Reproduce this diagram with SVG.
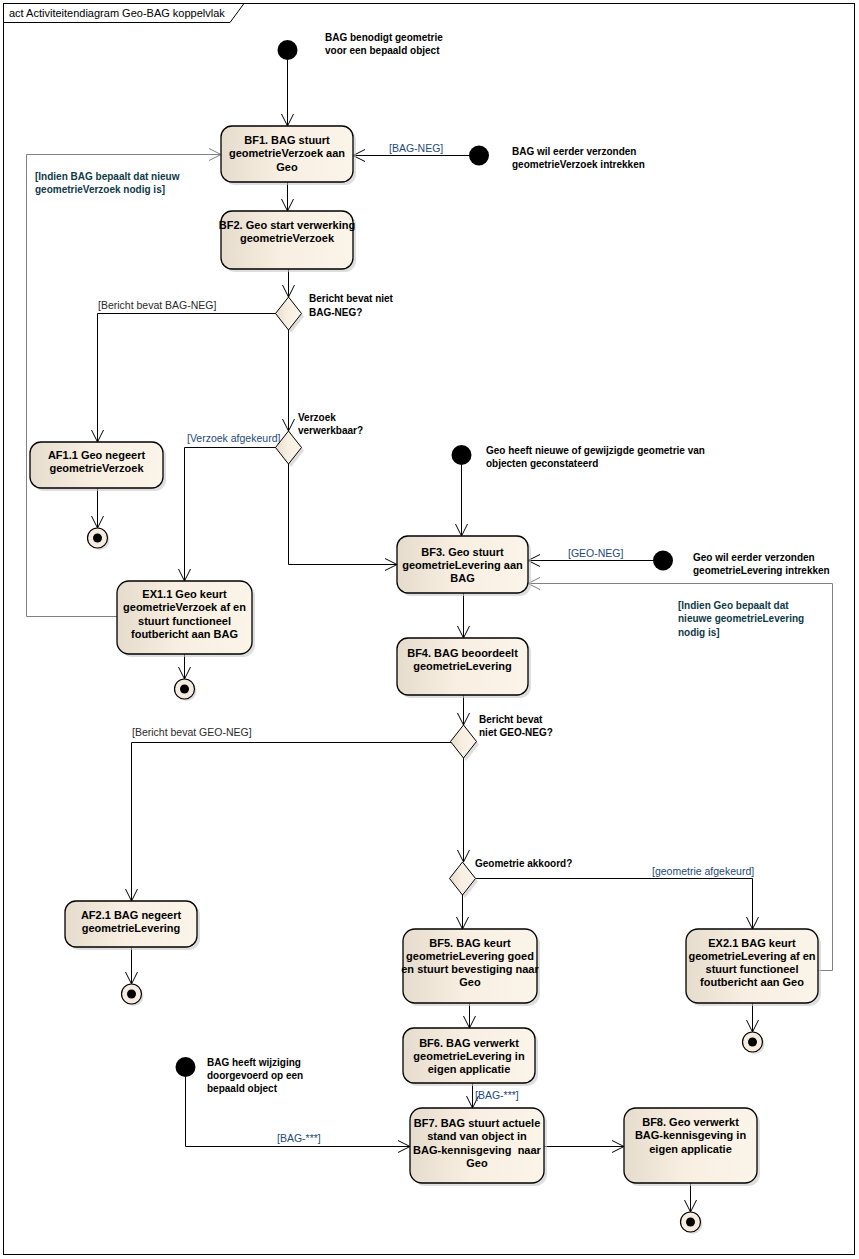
<svg xmlns="http://www.w3.org/2000/svg" width="859" height="1259" viewBox="0 0 859 1259">
<defs>
<linearGradient id="g" x1="0" y1="0" x2="1" y2="0">
<stop offset="0" stop-color="#e5dccd"/>
<stop offset="0.45" stop-color="#f8efe2"/>
<stop offset="1" stop-color="#fbf4e8"/>
</linearGradient>
<marker id="a" markerWidth="14" markerHeight="14" refX="13" refY="7" orient="auto" markerUnits="userSpaceOnUse"><path d="M1,1 L13,7 L1,13" fill="none" stroke="#000" stroke-width="1"/></marker>
<marker id="ag" markerWidth="14" markerHeight="14" refX="13" refY="7" orient="auto" markerUnits="userSpaceOnUse"><path d="M1,1 L13,7 L1,13" fill="none" stroke="#808080" stroke-width="1"/></marker>
</defs>
<style>
.n{fill:url(#g);stroke:#000;stroke-width:1.3}
.sh{fill:#c8c8c8;opacity:0.6}
.t{font-family:"Liberation Sans",Arial,sans-serif;font-size:11px;font-weight:bold;fill:#000;text-anchor:middle}
.nt{font-family:"Liberation Sans",Arial,sans-serif;font-size:10px;font-weight:bold;fill:#000}
.lg{font-family:"Liberation Sans",Arial,sans-serif;font-size:10px;font-weight:bold;fill:#0e3a48}
.gd{font-family:"Liberation Sans",Arial,sans-serif;font-size:10.5px;fill:#1e4a7a}
.gk{font-family:"Liberation Sans",Arial,sans-serif;font-size:10.5px;fill:#2a2a2a}
.c{fill:none;stroke:#000;stroke-width:1;marker-end:url(#a)}
.cg{fill:none;stroke:#808080;stroke-width:1;marker-end:url(#ag)}
.ini{fill:#000}
.fo{fill:#f5ecdf;stroke:#000;stroke-width:1.2}
.d{fill:url(#g);stroke:#000;stroke-width:1}
</style>
<rect x="0" y="0" width="859" height="1259" fill="#fff"/>
<g id="frame">
<rect x="3.5" y="3.5" width="851" height="1251" fill="none" stroke="#000" stroke-width="1"/>
<path d="M3.5,22.5 H230 L244,3.5" fill="none" stroke="#000" stroke-width="1"/>
<text x="9" y="17" font-family="Liberation Sans, Arial, sans-serif" font-size="11" fill="#000">act Activiteitendiagram Geo-BAG koppelvlak</text>
</g>
<g id="connectors">
<path class="c" d="M287.5,60 V126"/>
<path class="c" d="M469,155.5 H353"/>
<text class="gd" x="389" y="152">[BAG-NEG]</text>
<path class="cg" d="M117,616.5 H26.5 V154.5 H221"/>
<text class="lg" x="35" y="180">[Indien BAG bepaalt dat nieuw</text>
<text class="lg" x="35" y="193">geometrieVerzoek nodig is]</text>
<path class="c" d="M287.5,182 V211"/>
<path class="c" d="M288.5,269 V297"/>
<path class="c" d="M276,313.5 H97.5 V442"/>
<text class="gk" x="98" y="309">[Bericht bevat BAG-NEG]</text>
<path class="c" d="M288.5,330 V431"/>
<path class="c" d="M276,447.5 H184.5 V581"/>
<text class="gd" x="187" y="442">[Verzoek afgekeurd]</text>
<path class="c" d="M288.5,464 V564.5 H397"/>
<path class="c" d="M97.5,488 V528"/>
<path class="c" d="M184.5,654 V679"/>
<path class="c" d="M461.5,465 V536"/>
<path class="c" d="M653,560.5 H528"/>
<text class="gd" x="568" y="557">[GEO-NEG]</text>
<path class="cg" d="M818,970.5 H832.5 V583.5 H528"/>
<text class="lg" x="678" y="609">[Indien Geo bepaalt dat</text>
<text class="lg" x="678" y="622">nieuwe geometrieLevering</text>
<text class="lg" x="678" y="636">nodig is]</text>
<path class="c" d="M463.5,593 V638"/>
<path class="c" d="M463.5,695 V725"/>
<path class="c" d="M451,742.5 H131.5 V901"/>
<text class="gk" x="132" y="736">[Bericht bevat GEO-NEG]</text>
<path class="c" d="M463.5,758 V862"/>
<path class="c" d="M476,878.5 H752.5 V929"/>
<text class="gd" x="652" y="875">[geometrie afgekeurd]</text>
<path class="c" d="M462.5,895 V929"/>
<path class="c" d="M131.5,947 V984"/>
<path class="c" d="M752.5,1003 V1032"/>
<path class="c" d="M469.5,1003 V1028"/>
<path class="c" d="M472.5,1083 V1108"/>
<text class="gd" x="475" y="1099">[BAG-***]</text>
<path class="c" d="M185.5,1077 V1146.5 H410"/>
<text class="gd" x="277" y="1142">[BAG-***]</text>
<path class="c" d="M544,1146.5 H624"/>
<path class="c" d="M690.5,1183 V1212"/>
</g>
<g id="start1"><circle class="ini" cx="287.5" cy="50" r="10"/>
<text class="nt" x="325" y="41">BAG benodigt geometrie</text><text class="nt" x="325" y="54">voor een bepaald object</text></g>
<g id="start2"><circle class="ini" cx="479" cy="155.5" r="10"/>
<text class="nt" x="512" y="155">BAG wil eerder verzonden</text><text class="nt" x="512" y="168">geometrieVerzoek intrekken</text></g>
<g id="start3"><circle class="ini" cx="461.5" cy="455" r="10"/>
<text class="nt" x="486" y="454">Geo heeft nieuwe of gewijzigde geometrie van</text><text class="nt" x="486" y="467">objecten geconstateerd</text></g>
<g id="start4"><circle class="ini" cx="663" cy="560.5" r="10"/>
<text class="nt" x="693" y="561">Geo wil eerder verzonden</text><text class="nt" x="693" y="574">geometrieLevering intrekken</text></g>
<g id="start5"><circle class="ini" cx="185.5" cy="1067" r="10"/>
<text class="nt" x="207" y="1066">BAG heeft wijziging</text><text class="nt" x="207" y="1079">doorgevoerd op een</text><text class="nt" x="207" y="1092">bepaald object</text></g>
<g id="BF1"><rect class="sh" x="224" y="129" width="132" height="56" rx="11"/><rect class="n" x="221" y="126" width="132" height="56" rx="11"/>
<text class="t" x="287" y="144">BF1. BAG stuurt</text><text class="t" x="287" y="157">geometrieVerzoek aan</text><text class="t" x="287" y="171">Geo</text></g>
<g id="BF2"><rect class="sh" x="224" y="214" width="132" height="58" rx="11"/><rect class="n" x="221" y="211" width="132" height="58" rx="11"/>
<text class="t" x="287" y="229">BF2. Geo start verwerking</text><text class="t" x="287" y="242">geometrieVerzoek</text></g>
<g id="D1"><polygon class="sh" points="291,300 304,316.5 291,333 278,316.5"/><polygon class="d" points="288.5,297 301.5,313.5 288.5,330 275.5,313.5"/>
<text class="nt" x="309" y="302">Bericht bevat niet</text><text class="nt" x="309" y="316">BAG-NEG?</text></g>
<g id="D2"><polygon class="sh" points="291,434 304,450.5 291,467 278,450.5"/><polygon class="d" points="288.5,431 301.5,447.5 288.5,464 275.5,447.5"/>
<text class="nt" x="298" y="421">Verzoek</text><text class="nt" x="298" y="434">verwerkbaar?</text></g>
<g id="AF1.1"><rect class="sh" x="33" y="445" width="133" height="46" rx="11"/><rect class="n" x="30" y="442" width="133" height="46" rx="11"/>
<text class="t" x="96.5" y="459">AF1.1 Geo negeert</text><text class="t" x="96.5" y="472">geometrieVerzoek</text></g>
<g id="final1"><circle class="sh" cx="99.5" cy="540" r="10"/><circle class="fo" cx="97.5" cy="538" r="10"/><circle cx="97.5" cy="538" r="4.5"/></g>
<g id="EX1.1"><rect class="sh" x="120" y="584" width="135" height="73" rx="12"/><rect class="n" x="117" y="581" width="135" height="73" rx="12"/>
<text class="t" x="184.5" y="598">EX1.1 Geo keurt</text><text class="t" x="184.5" y="611">geometrieVerzoek af en</text><text class="t" x="184.5" y="625">stuurt functioneel</text><text class="t" x="184.5" y="638">foutbericht aan BAG</text></g>
<g id="final2"><circle class="sh" cx="186.5" cy="691" r="10"/><circle class="fo" cx="184.5" cy="689" r="10"/><circle cx="184.5" cy="689" r="4.5"/></g>
<g id="BF3"><rect class="sh" x="400" y="539" width="131" height="57" rx="11"/><rect class="n" x="397" y="536" width="131" height="57" rx="11"/>
<text class="t" x="462.5" y="556">BF3. Geo stuurt</text><text class="t" x="462.5" y="569">geometrieLevering aan</text><text class="t" x="462.5" y="582">BAG</text></g>
<g id="BF4"><rect class="sh" x="400" y="641" width="131" height="57" rx="11"/><rect class="n" x="397" y="638" width="131" height="57" rx="11"/>
<text class="t" x="462.5" y="657">BF4. BAG beoordeelt</text><text class="t" x="462.5" y="670">geometrieLevering</text></g>
<g id="D3"><polygon class="sh" points="466,728 479,744.5 466,761 453,744.5"/><polygon class="d" points="463.5,725 476.5,741.5 463.5,758 450.5,741.5"/>
<text class="nt" x="479" y="723">Bericht bevat</text><text class="nt" x="479" y="736">niet GEO-NEG?</text></g>
<g id="D4"><polygon class="sh" points="465,865 478,881.5 465,898 452,881.5"/><polygon class="d" points="462.5,862 475.5,878.5 462.5,895 449.5,878.5"/>
<text class="nt" x="475" y="867">Geometrie akkoord?</text></g>
<g id="AF2.1"><rect class="sh" x="68" y="904" width="132" height="46" rx="11"/><rect class="n" x="65" y="901" width="132" height="46" rx="11"/>
<text class="t" x="131" y="919">AF2.1 BAG negeert</text><text class="t" x="131" y="932">geometrieLevering</text></g>
<g id="final3"><circle class="sh" cx="133.5" cy="996" r="10"/><circle class="fo" cx="131.5" cy="994" r="10"/><circle cx="131.5" cy="994" r="4.5"/></g>
<g id="BF5"><rect class="sh" x="406" y="932" width="134" height="74" rx="12"/><rect class="n" x="403" y="929" width="134" height="74" rx="12"/>
<text class="t" x="470" y="947">BF5. BAG keurt</text><text class="t" x="470" y="960">geometrieLevering goed</text><text class="t" x="470" y="973">en stuurt bevestiging naar</text><text class="t" x="470" y="986">Geo</text></g>
<g id="EX2.1"><rect class="sh" x="689" y="932" width="132" height="74" rx="12"/><rect class="n" x="686" y="929" width="132" height="74" rx="12"/>
<text class="t" x="752" y="947">EX2.1 BAG keurt</text><text class="t" x="752" y="960">geometrieLevering af en</text><text class="t" x="752" y="973">stuurt functioneel</text><text class="t" x="752" y="986">foutbericht aan Geo</text></g>
<g id="final4"><circle class="sh" cx="754.5" cy="1044" r="10"/><circle class="fo" cx="752.5" cy="1042" r="10"/><circle cx="752.5" cy="1042" r="4.5"/></g>
<g id="BF6"><rect class="sh" x="406" y="1031" width="132" height="55" rx="11"/><rect class="n" x="403" y="1028" width="132" height="55" rx="11"/>
<text class="t" x="469" y="1047">BF6. BAG verwerkt</text><text class="t" x="469" y="1060">geometrieLevering in</text><text class="t" x="469" y="1073">eigen applicatie</text></g>
<g id="BF7"><rect class="sh" x="413" y="1111" width="134" height="75" rx="12"/><rect class="n" x="410" y="1108" width="134" height="75" rx="12"/>
<text class="t" x="477" y="1127">BF7. BAG stuurt actuele</text><text class="t" x="477" y="1140">stand van object in</text><text class="t" x="477" y="1154" style="white-space:pre">BAG-kennisgeving  naar</text><text class="t" x="477" y="1167">Geo</text></g>
<g id="BF8"><rect class="sh" x="627" y="1111" width="133" height="75" rx="12"/><rect class="n" x="624" y="1108" width="133" height="75" rx="12"/>
<text class="t" x="690.5" y="1126">BF8. Geo verwerkt</text><text class="t" x="690.5" y="1139">BAG-kennisgeving in</text><text class="t" x="690.5" y="1153">eigen applicatie</text></g>
<g id="final5"><circle class="sh" cx="692.5" cy="1224" r="10"/><circle class="fo" cx="690.5" cy="1222" r="10"/><circle cx="690.5" cy="1222" r="4.5"/></g>
</svg>
